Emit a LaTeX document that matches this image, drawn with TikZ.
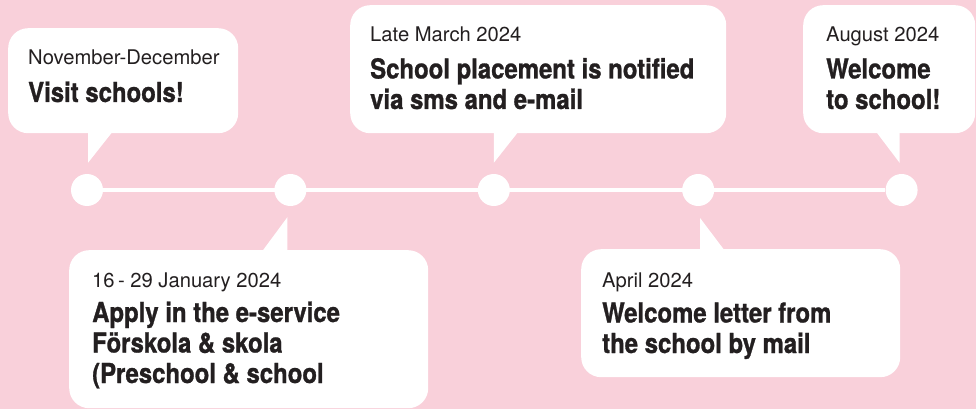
\documentclass[tikz,border=0pt]{standalone}
\usepackage{fontspec}
\setmainfont{TeX Gyre Heros}
\newfontfamily\titlefont{TeX Gyre Heros}[FakeStretch=0.87,FakeBold=1]
\usetikzlibrary{positioning,calc}
\definecolor{bgpink}{HTML}{F9D0DA}
\definecolor{ink}{HTML}{231F20}

\begin{document}
\begin{tikzpicture}[x=1pt,y=-1pt,
    dot/.style={circle,fill=white,inner sep=0,minimum size=32pt},
    bubble/.style={fill=white,rounded corners=20pt,anchor=north west,inner sep=0},
    datetext/.style={anchor=base west,inner sep=0,text=ink,
        font=\fontsize{20.2}{24}\selectfont},
    titletext/.style={anchor=base west,inner sep=0,text=ink,align=left,
        font=\titlefont\bfseries\fontsize{27.5}{30.5}\selectfont}]
\useasboundingbox (0,0) rectangle (976,409);
\fill[bgpink] (0,0) rectangle (976,409);

% Timeline
\node[dot] (c1) at (87,190) {};
\node[dot,right=171pt of c1] (c2) {};
\node[dot,right=171pt of c2] (c3) {};
\node[dot,right=172pt of c3] (c4) {};
\node[dot,right=171pt of c4] (c5) {};
\draw[white,line width=4.5pt] (c1) -- (c5);

% Bubbles
\node[bubble,minimum width=230pt,minimum height=105pt] (b1) at (8,28) {};
\node[bubble,minimum width=376pt,minimum height=128pt] (b2) at (350,5) {};
\node[bubble,minimum width=172pt,minimum height=128pt] (b3) at (803,5) {};
\node[bubble,minimum width=359pt,minimum height=158pt] (b4) at (69,250) {};
\node[bubble,minimum width=319pt,minimum height=128pt] (b5) at (581,249) {};

% Pointers
\fill[white] ($(c1.north)+(1,-11)$) -- ($(c1.north |- b1.south)+(1,-1)$)
    -- ($(c1.north |- b1.south)+(25,-1)$) -- cycle;
\fill[white] ($(c3.north)+(0,-11)$) -- ($(c3.north |- b2.south)+(0,-1)$)
    -- ($(c3.north |- b2.south)+(24,-1)$) -- cycle;
\fill[white] ($(c5.north)+(-2,-11)$) -- ($(c5.north |- b3.south)+(-2,-1)$)
    -- ($(c5.north |- b3.south)+(-25,-1)$) -- cycle;
\fill[white] ($(c2.south)+(-3,11)$) -- ($(c2.south |- b4.north)+(-3,1)$)
    -- ($(c2.south |- b4.north)+(-28,1)$) -- cycle;
\fill[white] ($(c4.south)+(2,12)$) -- ($(c4.south |- b5.north)+(2,1)$)
    -- ($(c4.south |- b5.north)+(26,1)$) -- cycle;

% Texts (title nodes sit on their last line)
\node[datetext] (d1) at ($(b1.north west)+(20,37)$) {November-December};
\node[titletext] (t1) at ($(b1.north west)+(20,74)$) {Visit schools!};

\node[datetext] (d2) at ($(b2.north west)+(20,37)$) {Late March 2024};
\node[titletext] (t2) at ($(b2.north west)+(20,104)$)
    {School placement is notified\\via sms and e-mail};

\node[datetext] (d3) at ($(b3.north west)+(23,37)$) {August 2024};
\node[titletext] (t3) at ($(b3.north west)+(23,104)$) {Welcome\\to school!};

\node[datetext] (d4) at ($(b4.north west)+(23,37)$) {16\,- 29 January 2024};
\node[titletext] (t4) at ($(b4.north west)+(23,133)$)
    {Apply in the e-service\\Förskola \& skola\\(Preschool \& school};

\node[datetext] (d5) at ($(b5.north west)+(21,38)$) {April 2024};
\node[titletext] (t5) at ($(b5.north west)+(21,104)$)
    {Welcome letter from\\the school by mail};

\end{tikzpicture}
\end{document}
